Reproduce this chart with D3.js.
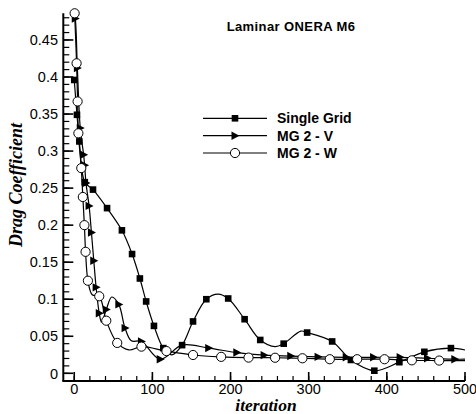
<!DOCTYPE html>
<html>
<head>
<meta charset="utf-8">
<script src="https://cdn.jsdelivr.net/npm/d3@7"></script>
<style>
  html, body { margin: 0; padding: 0; background: #fff; }
  svg { display: block; }
</style>
</head>
<body>
<svg id="chart" width="476" height="414"></svg>
<script>
// ---- data (iteration, drag coefficient) ----
const titleText = "Laminar ONERA M6";
const xLabel = "iteration";
const yLabel = "Drag Coefficient";
const xMajorTicks = [0, 100, 200, 300, 400, 500];
const yMajorTicks = [0, 0.05, 0.1, 0.15, 0.2, 0.25, 0.3, 0.35, 0.4, 0.45];
const yTickLabels = ["0", "0.05", "0.1", "0.15", "0.2", "0.25", "0.3", "0.35", "0.4", "0.45"];
const seriesNames = ["Single Grid", "MG 2 - V", "MG 2 - W"];

// markers shown on each curve
const sgMarkers = [[0,0.396],[3.5,0.349],[6.5,0.313],[13.5,0.258],[24,0.248],[42,0.223],[61,0.193],[74,0.161],[84,0.128],[92,0.097],[102,0.064],[114,0.034],[138,0.038],[152,0.070],[169,0.100],[197,0.101],[218,0.073],[238,0.045],[268,0.040],[298,0.055],[330,0.043],[354,0.018],[384,0.0035],[416,0.015],[448,0.029],[482,0.034]];
// additional curve points between markers
const sgExtra = [[125,0.025],[184,0.107],[257,0.036],[290,0.057],[500,0.0315]];

const mgvMarkers = [[1.3,0.479],[4,0.412],[7.7,0.331],[12,0.295],[13.3,0.281],[15,0.257],[19,0.226],[22,0.19],[25,0.152],[28,0.116],[32,0.081],[41,0.086],[57,0.093],[65,0.061],[86,0.043],[110,0.019],[172,0.034],[208,0.028],[243,0.0245],[277,0.0233],[312,0.0222],[348,0.0216],[383,0.0216],[417,0.0216],[452,0.0203],[487,0.019]];
const mgvExtra = [[0,0.484],[35,0.069],[48,0.103],[73,0.044],[138,0.038],[500,0.019]];

const mgwMarkers = [[0.5,0.486],[3,0.4185],[4.3,0.367],[5.3,0.324],[9,0.277],[11,0.238],[13,0.200],[14.5,0.164],[17.5,0.125],[32,0.104],[41,0.071],[55,0.041],[86,0.036],[118,0.030],[152,0.0247],[188,0.0222],[223,0.0212],[257,0.021],[292,0.0203],[327,0.019],[362,0.019],[397,0.019],[432,0.0175],[467,0.0172]];
const mgwExtra = [[23,0.106],[70,0.0315],[500,0.017]];

// ---- drawing ----
const svg = d3.select("#chart");
const x = d3.scaleLinear().domain([-14, 500]).range([63.3, 465]);
const y = d3.scaleLinear().domain([-0.0104, 0.486]).range([381, 13.3]);

const merge = (a, b) => a.concat(b).sort((p, q) => p[0] - q[0]);
const line = d3.line().x(d => x(d[0])).y(d => y(d[1])).curve(d3.curveCatmullRom.alpha(0.5));

// axes lines
const axisG = svg.append("g");
axisG.append("line").attr("x1", x(-14)).attr("x2", x(-14)).attr("y1", y(-0.0104)).attr("y2", y(0.486))
  .attr("stroke", "#000").attr("stroke-width", 2);
axisG.append("line").attr("x1", x(-14) - 1).attr("x2", x(500)).attr("y1", y(-0.0104)).attr("y2", y(-0.0104))
  .attr("stroke", "#000").attr("stroke-width", 2);

// y ticks
const yMinor = d3.range(0, 49).map(i => i / 100);
axisG.selectAll(".ymin").data(yMinor).enter().append("line")
  .attr("x1", x(-14)).attr("x2", x(-14) + 6)
  .attr("y1", d => y(d)).attr("y2", d => y(d))
  .attr("stroke", "#000").attr("stroke-width", 1.2);
axisG.selectAll(".ymaj").data(yMajorTicks).enter().append("line")
  .attr("x1", x(-14)).attr("x2", x(-14) + 10)
  .attr("y1", d => y(d)).attr("y2", d => y(d))
  .attr("stroke", "#000").attr("stroke-width", 1.6);
axisG.selectAll(".ylab").data(yMajorTicks).enter().append("text")
  .attr("x", 58).attr("y", d => y(d)).attr("dy", "0.36em")
  .attr("text-anchor", "end")
  .attr("font-family", "Liberation Sans, Arial, sans-serif").attr("font-size", 14.5)
  .text((d, i) => yTickLabels[i]);

// x ticks
const xMinor = d3.range(0, 501, 20);
axisG.selectAll(".xmin").data(xMinor).enter().append("line")
  .attr("x1", d => x(d)).attr("x2", d => x(d))
  .attr("y1", y(-0.0104)).attr("y2", y(-0.0104) - 5)
  .attr("stroke", "#000").attr("stroke-width", 1.2);
axisG.selectAll(".xmaj").data(xMajorTicks).enter().append("line")
  .attr("x1", d => x(d)).attr("x2", d => x(d))
  .attr("y1", y(-0.0104)).attr("y2", y(-0.0104) - 9)
  .attr("stroke", "#000").attr("stroke-width", 1.6);
axisG.selectAll(".xlab").data(xMajorTicks).enter().append("text")
  .attr("x", d => x(d)).attr("y", 393.5)
  .attr("text-anchor", "middle")
  .attr("font-family", "Liberation Sans, Arial, sans-serif").attr("font-size", 14.5)
  .text(d => d);

// axis titles
svg.append("text").attr("x", 266).attr("y", 410.5).attr("text-anchor", "middle")
  .attr("font-family", "Liberation Serif, Times New Roman, serif").attr("font-style", "italic").attr("font-weight", "bold")
  .attr("font-size", 17.5).text(xLabel);
svg.append("text").attr("transform", "translate(22,185) rotate(-90)").attr("text-anchor", "middle")
  .attr("font-family", "Liberation Serif, Times New Roman, serif").attr("font-style", "italic").attr("font-weight", "bold")
  .attr("font-size", 18).text(yLabel);

// title
svg.append("text").attr("x", 291).attr("y", 31).attr("text-anchor", "middle")
  .attr("font-family", "Liberation Sans, Arial, sans-serif").attr("font-weight", "bold")
  .attr("font-size", 13).attr("letter-spacing", 0.4).text(titleText);

// curves
const curves = [merge(sgMarkers, sgExtra), merge(mgvMarkers, mgvExtra), merge(mgwMarkers, mgwExtra)];
svg.append("g").selectAll("path").data(curves).enter().append("path")
  .attr("d", line).attr("fill", "none").attr("stroke", "#000").attr("stroke-width", 1.2);

// marker shapes
function square(g, cx, cy) {
  g.append("rect").attr("x", cx - 3.3).attr("y", cy - 3.3).attr("width", 6.6).attr("height", 6.6).attr("fill", "#000");
}
function tri(g, cx, cy) {
  g.append("path").attr("d", `M${cx - 3.5},${cy - 4.2}L${cx + 4.5},${cy}L${cx - 3.5},${cy + 4.2}Z`).attr("fill", "#000");
}
function circ(g, cx, cy) {
  g.append("circle").attr("cx", cx).attr("cy", cy).attr("r", 4.6).attr("fill", "#fff").attr("stroke", "#000").attr("stroke-width", 1);
}
const mg = svg.append("g");
sgMarkers.forEach(d => square(mg, x(d[0]), y(d[1])));
mgvMarkers.forEach(d => tri(mg, x(d[0]), y(d[1])));
mgwMarkers.forEach(d => circ(mg, x(d[0]), y(d[1])));

// legend
const legY = [118.3, 135.7, 153];
const legFns = [square, tri, circ];
const lg = svg.append("g");
seriesNames.forEach((name, i) => {
  lg.append("line").attr("x1", 203).attr("x2", 267).attr("y1", legY[i]).attr("y2", legY[i])
    .attr("stroke", "#000").attr("stroke-width", 1.2);
  legFns[i](lg, 235, legY[i]);
  lg.append("text").attr("x", 277).attr("y", legY[i] + 5)
    .attr("font-family", "Liberation Sans, Arial, sans-serif").attr("font-weight", "bold")
    .attr("font-size", 14).text(name);
});
</script>
</body>
</html>
